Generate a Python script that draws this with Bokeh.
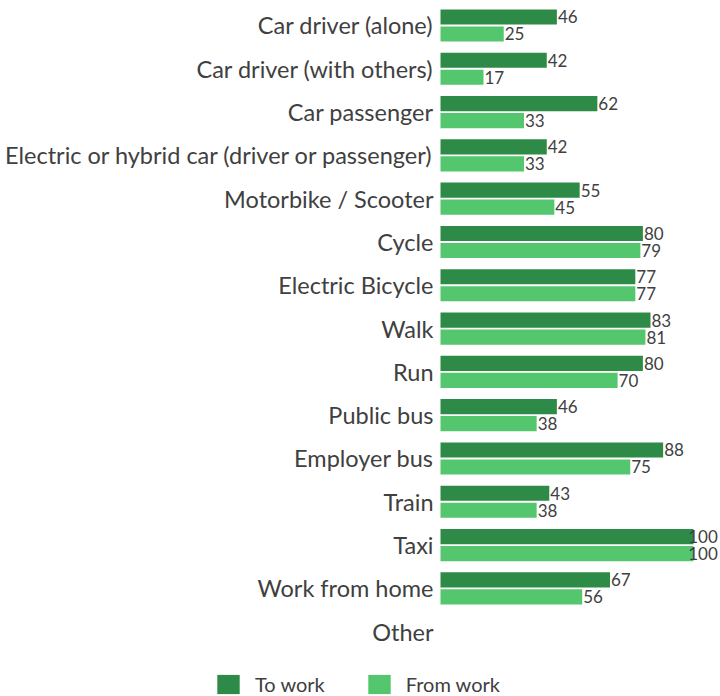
import numpy as np
from bokeh.plotting import figure
from bokeh.models import ColumnDataSource, Range1d, Legend, LegendItem
from bokeh.transform import dodge
from bokeh.core.properties import value
from bokeh.embed import file_html
from bokeh.resources import INLINE

categories = [
    "Car driver (alone)",
    "Car driver (with others)",
    "Car passenger",
    "Electric or hybrid car (driver or passenger)",
    "Motorbike / Scooter",
    "Cycle",
    "Electric Bicycle",
    "Walk",
    "Run",
    "Public bus",
    "Employer bus",
    "Train",
    "Taxi",
    "Work from home",
    "Other",
]
to_work = [46, 42, 62, 42, 55, 80, 77, 83, 80, 46, 88, 43, 100, 67]
from_work = [25, 17, 33, 33, 45, 79, 77, 81, 70, 38, 75, 38, 100, 56]
series_names = ["To work", "From work"]

DARK = "#2E8B47"
LIGHT = "#53C66E"
TEXT = "#404040"
FONT = "Lato"

idx = np.arange(len(to_work))
src = ColumnDataSource(dict(
    y=idx,
    to=to_work,
    fr=from_work,
    to_lx=np.minimum(np.array(to_work, dtype=float), 97.5),
    fr_lx=np.minimum(np.array(from_work, dtype=float), 97.5),
    to_lab=[str(v) for v in to_work],
    fr_lab=[str(v) for v in from_work],
))
cat_src = ColumnDataSource(dict(y=np.arange(len(categories)), x=np.zeros(len(categories)), name=categories))

p = figure(width=720, height=696, output_backend="svg", toolbar_location=None,
           x_range=Range1d(-173.91, 110.67), y_range=Range1d(15.497, -0.577),
           min_border_left=0, min_border_right=0, min_border_top=0, min_border_bottom=0)
p.outline_line_color = None
p.xgrid.visible = False
p.ygrid.visible = False
p.xaxis.visible = False
p.yaxis.visible = False

r1 = p.hbar(y=dodge("y", -0.196), left=0, right="to", height=0.35, fill_color=DARK, line_color=None, source=src)
r2 = p.hbar(y=dodge("y", 0.196), left=0, right="fr", height=0.35, fill_color=LIGHT, line_color=None, source=src)

for col, lab, off in (("to_lx", "to_lab", -0.196), ("fr_lx", "fr_lab", 0.196)):
    p.text(x=col, y=dodge("y", off), text=lab, source=src, x_offset=1,
           text_baseline="middle", text_align="left",
           text_font=value(FONT), text_font_size="17px", text_color=TEXT)

# category labels (left axis)
p.text(x="x", y="y", text="name", source=cat_src, x_offset=-7,
       text_baseline="middle", text_align="right",
       text_font=value(FONT), text_font_size="23.5px", text_color=TEXT)

legend = Legend(items=[LegendItem(label=series_names[0], renderers=[r1]),
                       LegendItem(label=series_names[1], renderers=[r2])],
                orientation="horizontal", location=(214, 0),
                glyph_width=28, glyph_height=24, label_standoff=13, spacing=40,
                padding=0, margin=0, border_line_color=None, background_fill_alpha=0,
                label_height=24,
                label_text_font=FONT, label_text_font_size="20px", label_text_color=TEXT)
p.add_layout(legend, "center")

open("out.html", "w").write(file_html(p, INLINE))
